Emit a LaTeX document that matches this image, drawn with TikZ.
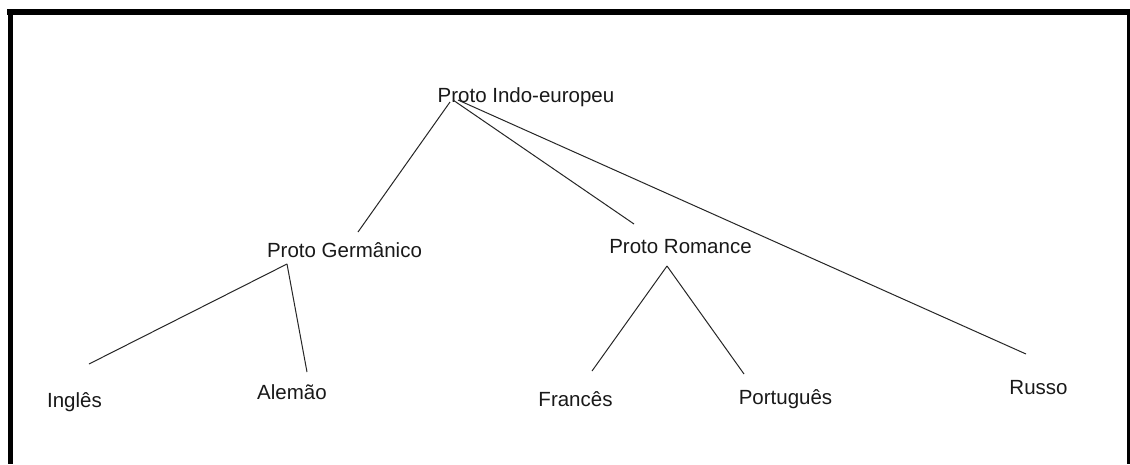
\documentclass[tikz,border=0pt]{standalone}
\usepackage{fontspec}
\setmainfont{Liberation Sans}
\begin{document}
\begin{tikzpicture}[x=1pt,y=-1pt,
  lang/.style={anchor=base,inner sep=0pt,font=\fontsize{20.5}{24}\selectfont,text=black!90},
  link/.style={line width=1pt,draw=black!85},
  frame/.style={fill=black}]
\useasboundingbox (0,0) rectangle (1130,464);
\fill[white] (0,0) rectangle (1130,464);
% frame
\fill[frame] (7,9) rectangle (1130,15);
\fill[frame] (8,9) rectangle (13,464);
\fill[frame] (1127,9) rectangle (1130,464);
% labels
\node[lang] (pie) at (526,102) {Proto Indo-europeu};
\node[lang] (ger) at (344.5,257) {Proto Germânico};
\node[lang] (rom) at (680.5,253) {Proto Romance};
\node[lang] (ing) at (74.5,407) {Inglês};
\node[lang] (ale) at (292,399) {Alemão};
\node[lang] (fra) at (575.5,406) {Francês};
\node[lang] (por) at (785.5,404) {Português};
\node[lang] (rus) at (1038.5,394) {Russo};
% connector ends
\coordinate (pieA) at (450,102);
\coordinate (pieB) at (453,100);
\coordinate (pieC) at (458,100);
\coordinate (gerT) at (358,232);
\coordinate (romT) at (634,224);
\coordinate (rusT) at (1026,354);
\coordinate (gerB) at (287,264);
\coordinate (ingT) at (89,364);
\coordinate (aleT) at (307,372);
\coordinate (romB) at (667,266);
\coordinate (fraT) at (592,371);
\coordinate (porT) at (744,374);
\draw[link] (pieA) -- (gerT);
\draw[link] (pieB) -- (romT);
\draw[link] (pieC) -- (rusT);
\draw[link] (gerB) -- (ingT);
\draw[link] (gerB) -- (aleT);
\draw[link] (romB) -- (fraT);
\draw[link] (romB) -- (porT);
\end{tikzpicture}
\end{document}
